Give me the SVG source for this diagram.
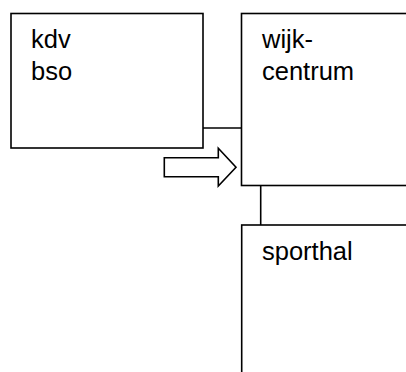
<svg xmlns="http://www.w3.org/2000/svg" width="406" height="372" viewBox="0 0 406 372">
<style>
.box{fill:#fff;stroke:#000;stroke-width:1.6}
.ln{fill:none;stroke:#000;stroke-width:1.6}
.t{font-family:"Liberation Sans",Arial,sans-serif;font-size:25.5px;fill:#000}
</style>
<rect width="406" height="372" fill="#fff"/>
<g id="connectors">
<line class="ln" x1="203" y1="128" x2="241.5" y2="128"/>
<line class="ln" x1="260.7" y1="185.5" x2="260.7" y2="225"/>
<polygon class="box" points="164.3,157.7 218.3,157.7 218.3,148.3 236,167.3 218.3,186 218.3,176.7 164.3,176.7"/>
</g>
<g id="kdv">
<rect class="box" x="11" y="13.5" width="192" height="134.5"/>
<text class="t" x="31" y="48">kdv</text>
<text class="t" x="31" y="80">bso</text>
</g>
<g id="wijkcentrum">
<rect class="box" x="241.5" y="13.5" width="180" height="172"/>
<text class="t" x="262" y="48">wijk-</text>
<text class="t" x="262" y="80">centrum</text>
</g>
<g id="sporthal">
<rect class="box" x="241.7" y="225" width="180" height="160"/>
<text class="t" x="262" y="260">sporthal</text>
</g>
</svg>
